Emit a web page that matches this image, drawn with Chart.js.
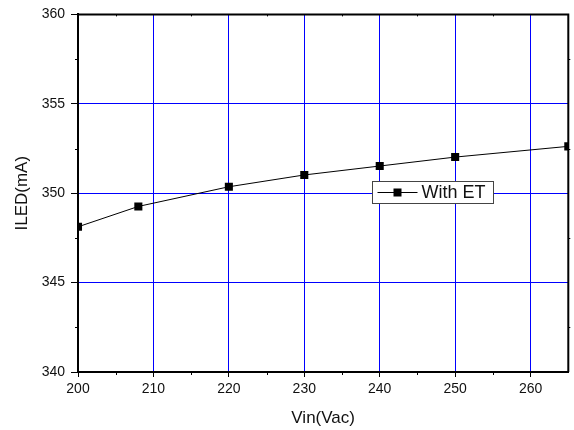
<!DOCTYPE html>
<html>
<head>
<meta charset="utf-8">
<script src="https://cdn.jsdelivr.net/npm/chart.js@4"></script>
<style>
  html, body { margin: 0; padding: 0; background: #fff; }
  #wrap { width: 574px; height: 430px; }
</style>
</head>
<body>
<div id="wrap"><canvas id="chart" width="574" height="430"></canvas></div>
<script>
const vin = [200, 208, 220, 230, 240, 250, 265];
const iled = [348.12, 349.26, 350.36, 351.02, 351.52, 352.02, 352.62];
const seriesLabel = "With ET";
const xTicks = [200, 210, 220, 230, 240, 250, 260];
const yTicks = [340, 345, 350, 355, 360];
const xMinor = [205, 215, 225, 235, 245, 255];
const yMinor = [342.5, 347.5, 352.5, 357.5];

const FONT = "'Liberation Sans', Arial, sans-serif";

// top/right frame lines, minor ticks and the in-plot legend
const framePlugin = {
  id: "frame",
  afterDatasetsDraw(chart) {
    const { ctx, chartArea: a, scales } = chart;
    const x = scales.x, y = scales.y;
    ctx.save();
    ctx.strokeStyle = "#000";
    ctx.lineWidth = 2;
    ctx.beginPath();
    ctx.moveTo(a.left, a.top);
    ctx.lineTo(a.right, a.top);
    ctx.lineTo(a.right, a.bottom);
    ctx.stroke();

    ctx.lineWidth = 1;
    ctx.beginPath();
    xMinor.forEach((v) => {
      const px = Math.round(x.getPixelForValue(v)) + 0.5;
      ctx.moveTo(px, a.bottom);
      ctx.lineTo(px, a.bottom + 3);
      ctx.moveTo(px, a.top);
      ctx.lineTo(px, a.top + 2);
    });
    yMinor.forEach((v) => {
      const py = Math.round(y.getPixelForValue(v)) + 0.5;
      ctx.moveTo(a.left - 3, py);
      ctx.lineTo(a.left, py);
      ctx.moveTo(a.right, py);
      ctx.lineTo(a.right + 2, py);
    });
    ctx.stroke();

    // legend box
    const bx = 372.5, by = 181.5, bw = 121, bh = 22;
    ctx.fillStyle = "#fff";
    ctx.strokeStyle = "#444";
    ctx.lineWidth = 1;
    ctx.fillRect(bx, by, bw, bh);
    ctx.strokeRect(bx, by, bw, bh);
    const ly = by + bh / 2;
    ctx.strokeStyle = "#000";
    ctx.beginPath();
    ctx.moveTo(bx + 5, ly);
    ctx.lineTo(bx + 45, ly);
    ctx.stroke();
    ctx.fillStyle = "#000";
    ctx.fillRect(bx + 21, ly - 4, 8, 8);
    ctx.fillStyle = "#111";
    ctx.font = "18px " + FONT;
    ctx.textBaseline = "middle";
    ctx.textAlign = "left";
    ctx.fillText(chart.data.datasets[0].label, bx + 49, ly + 1);
    ctx.restore();
  }
};

new Chart(document.getElementById("chart"), {
  type: "line",
  data: {
    datasets: [{
      label: seriesLabel,
      data: vin.map((v, i) => ({ x: v, y: iled[i] })),
      borderColor: "#000",
      borderWidth: 1,
      backgroundColor: "#000",
      pointStyle: "rect",
      pointRadius: 5.7,
      pointBorderWidth: 0,
      tension: 0
    }]
  },
  options: {
    responsive: false,
    animation: false,
    layout: { padding: { top: 9, right: 2, left: 0, bottom: 0 } },
    plugins: { legend: { display: false }, tooltip: { enabled: false } },
    scales: {
      x: {
        type: "linear",
        min: 200,
        max: 265,
        afterBuildTicks: (s) => { s.ticks = xTicks.map((v) => ({ value: v })); },
        afterFit: (s) => { s.height = 58; },
        grid: { color: "#0000ff", tickColor: "#000", tickLength: 5, lineWidth: 1 },
        border: { color: "#000", width: 2 },
        ticks: { color: "#111", font: { family: FONT, size: 14 }, padding: 4, maxRotation: 0 },
        title: { display: true, text: "Vin(Vac)", color: "#111", font: { family: FONT, size: 17 }, padding: { top: 0, bottom: 1 } }
      },
      y: {
        type: "linear",
        min: 340,
        max: 360,
        afterBuildTicks: (s) => { s.ticks = yTicks.map((v) => ({ value: v })); },
        afterFit: (s) => { s.width = 78; },
        grid: { color: "#0000ff", tickColor: "#000", tickLength: 7, lineWidth: 1 },
        border: { color: "#000", width: 2 },
        ticks: { color: "#111", font: { family: FONT, size: 14 }, padding: 6 },
        title: { display: true, text: "ILED(mA)", color: "#111", font: { family: FONT, size: 17 }, padding: { top: 12, bottom: 0 } }
      }
    }
  },
  plugins: [framePlugin]
});
</script>
</body>
</html>
